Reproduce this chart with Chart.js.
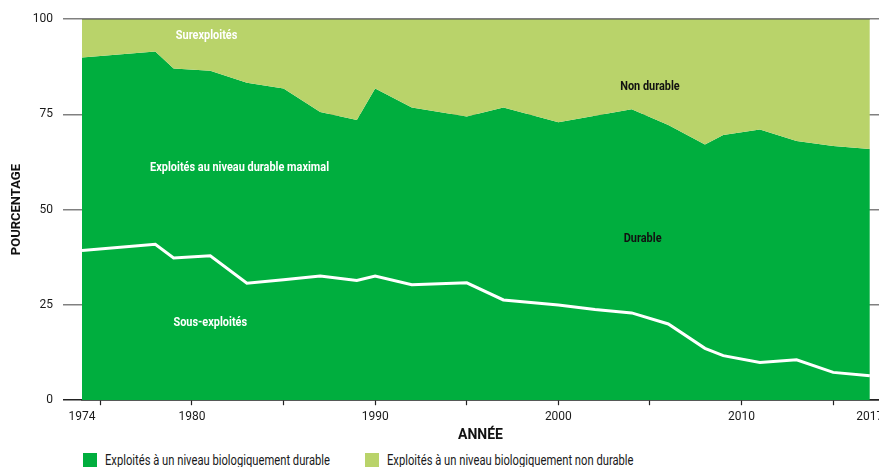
<!DOCTYPE html>
<html lang="fr">
<head>
<meta charset="utf-8">
<title>Stocks de poissons</title>
<script src="https://cdn.jsdelivr.net/npm/chart.js@4.4.1/dist/chart.umd.min.js"></script>
<style>
    body { margin: 0; background: #fff; }
    #wrap { position: relative; width: 879px; height: 467px; overflow: hidden; }
    #chart-box { position: absolute; left: 0; top: 0; width: 879px; height: 448px; }
    .legend-item { position: absolute; top: 452px; height: 15px; display: flex; align-items: center;
        font-family: Roboto, "Liberation Sans", sans-serif;
        font-size: 14px; color: #1a1a1a; white-space: nowrap; }
    .legend-item span.box { display: inline-block; width: 14px; height: 14px; margin-right: 8px; flex: none; }
    .legend-item span.txt { display: inline-block; transform: scaleX(0.8); transform-origin: left center; }
</style>
</head>
<body>
<div id="wrap">
    <div id="chart-box"><canvas id="stockChart"></canvas></div>
    <div class="legend-item" style="left:83px"><span class="box" style="background:#00AE3E"></span><span class="txt">Exploités à un niveau biologiquement durable</span></div>
    <div class="legend-item" style="left:365px"><span class="box" style="background:#B9D36A"></span><span class="txt">Exploités à un niveau biologiquement non durable</span></div>
</div>
<script>
// Years of the assessments
const years = [1974, 1978, 1979, 1981, 1983, 1985, 1987, 1989, 1990, 1992, 1995,
               1997, 2000, 2002, 2004, 2006, 2008, 2009, 2011, 2013, 2015, 2017];

// Share of stocks fished at sustainable levels (under-exploited + maximally exploited)
const sustainable = [89.9, 91.5, 87.0, 86.4, 83.3, 81.8, 75.6, 73.5, 81.8, 76.8, 74.4,
                     76.8, 72.9, 74.6, 76.3, 72.2, 67.1, 69.6, 71.0, 68.0, 66.7, 65.9];

// Share of under-exploited stocks (white line)
const underExploited = [39.3, 40.9, 37.3, 37.9, 30.7, 31.6, 32.6, 31.4, 32.6, 30.3, 30.8,
                        26.3, 25.0, 23.8, 22.9, 20.0, 13.6, 11.7, 9.9, 10.6, 7.3, 6.4];

// Axis ticks
const tickYears = [1974, 1975, 1980, 1985, 1990, 1995, 2000, 2005, 2010, 2015, 2017];
const labelYears = [1974, 1980, 1990, 2000, 2010, 2017];

// Text written inside the areas
const areaLabels = [
    { text: "Surexploités", x: 1980.8, y: 95.6, color: "#ffffff" },
    { text: "Exploités au niveau durable maximal", x: 1982.6, y: 60.9, color: "#ffffff" },
    { text: "Sous-exploités", x: 1981.0, y: 20.3, color: "#ffffff" },
    { text: "Non durable", x: 2005.0, y: 82.2, color: "#111111" },
    { text: "Durable", x: 2004.6, y: 42.3, color: "#111111" }
];

const darkGreen = "#00AE3E";
const lightGreen = "#B9D36A";
const fontFamily = 'Roboto, "Liberation Sans", sans-serif';

// Draw the labels inside the chart using the scales (squeezed a bit, the original font is condensed)
const areaLabelPlugin = {
    id: "areaLabels",
    afterDatasetsDraw(chart) {
        const ctx = chart.ctx;
        const xScale = chart.scales.x;
        const yScale = chart.scales.y;
        ctx.save();
        ctx.font = "bold 13px " + fontFamily;
        ctx.textAlign = "center";
        ctx.textBaseline = "middle";
        areaLabels.forEach(label => {
            ctx.save();
            ctx.translate(xScale.getPixelForValue(label.x), yScale.getPixelForValue(label.y));
            ctx.scale(0.84, 1);
            ctx.fillStyle = label.color;
            ctx.fillText(label.text, 0, 0);
            ctx.restore();
        });
        // thin line along the top of the chart
        const top = yScale.getPixelForValue(100);
        ctx.strokeStyle = "rgba(110,120,90,0.8)";
        ctx.lineWidth = 1;
        ctx.beginPath();
        ctx.moveTo(chart.chartArea.left, top + 0.5);
        ctx.lineTo(xScale.getPixelForValue(2017), top + 0.5);
        ctx.stroke();
        ctx.restore();
    }
};

const toPoints = values => values.map((v, i) => ({ x: years[i], y: v }));

const stockChart = new Chart(document.getElementById("stockChart"), {
    type: "line",
    data: {
        datasets: [
            {
                label: "Durable",
                data: toPoints(sustainable),
                borderWidth: 0,
                pointRadius: 0,
                backgroundColor: darkGreen,
                fill: "origin",
                order: 3
            },
            {
                label: "Non durable",
                data: toPoints(sustainable),
                borderWidth: 0,
                pointRadius: 0,
                backgroundColor: lightGreen,
                fill: "end",
                order: 2
            },
            {
                label: "Sous-exploités",
                data: toPoints(underExploited),
                borderColor: "#ffffff",
                borderWidth: 3,
                pointRadius: 0,
                fill: false,
                order: 1
            }
        ]
    },
    options: {
        responsive: true,
        maintainAspectRatio: false,
        animation: false,
        layout: { padding: { top: 19, right: 0, left: 0, bottom: 6 } },
        plugins: {
            legend: { display: false },
            tooltip: { enabled: false }
        },
        elements: { line: { tension: 0 } },
        scales: {
            x: {
                type: "linear",
                min: 1974,
                max: 2017.5,
                afterBuildTicks(scale) {
                    scale.ticks = tickYears.map(v => ({ value: v }));
                },
                afterFit(scale) {
                    scale.paddingLeft = 0;
                    scale.paddingRight = 0;
                },
                ticks: {
                    autoSkip: false,
                    maxRotation: 0,
                    padding: 6,
                    color: "#1a1a1a",
                    font: { family: fontFamily, size: 12, lineHeight: 0.9 },
                    callback: value => labelYears.includes(value) ? String(value) : ""
                },
                grid: {
                    drawOnChartArea: false,
                    drawTicks: true,
                    tickLength: 5,
                    tickWidth: 1.2,
                    tickColor: ctx => (ctx.tick && (ctx.tick.value === 1974 || ctx.tick.value === 2017)) ? "rgba(0,0,0,0)" : "#222222"
                },
                border: { display: true, color: "#222222", width: 1.5 },
                title: {
                    display: true,
                    text: "ANNÉE",
                    color: "#111111",
                    font: { family: fontFamily, size: 14, weight: "bold", lineHeight: 1 },
                    padding: { top: 0, bottom: 0 }
                }
            },
            y: {
                min: 0,
                max: 100,
                afterFit(scale) {
                    scale.width = 82;
                },
                ticks: {
                    stepSize: 25,
                    padding: 10,
                    color: "#1a1a1a",
                    font: { family: fontFamily, size: 12 }
                },
                grid: {
                    tickLength: 19,
                    lineWidth: 1.5,
                    color: ctx => ctx.tick && ctx.tick.value === 0 ? "#222222" : "#808080"
                },
                border: { display: false },
                title: {
                    display: true,
                    text: "POURCENTAGE",
                    color: "#111111",
                    font: { family: fontFamily, size: 13, weight: "bold" },
                    padding: { top: 9, bottom: 0 }
                }
            }
        }
    },
    plugins: [areaLabelPlugin]
});
</script>
</body>
</html>
